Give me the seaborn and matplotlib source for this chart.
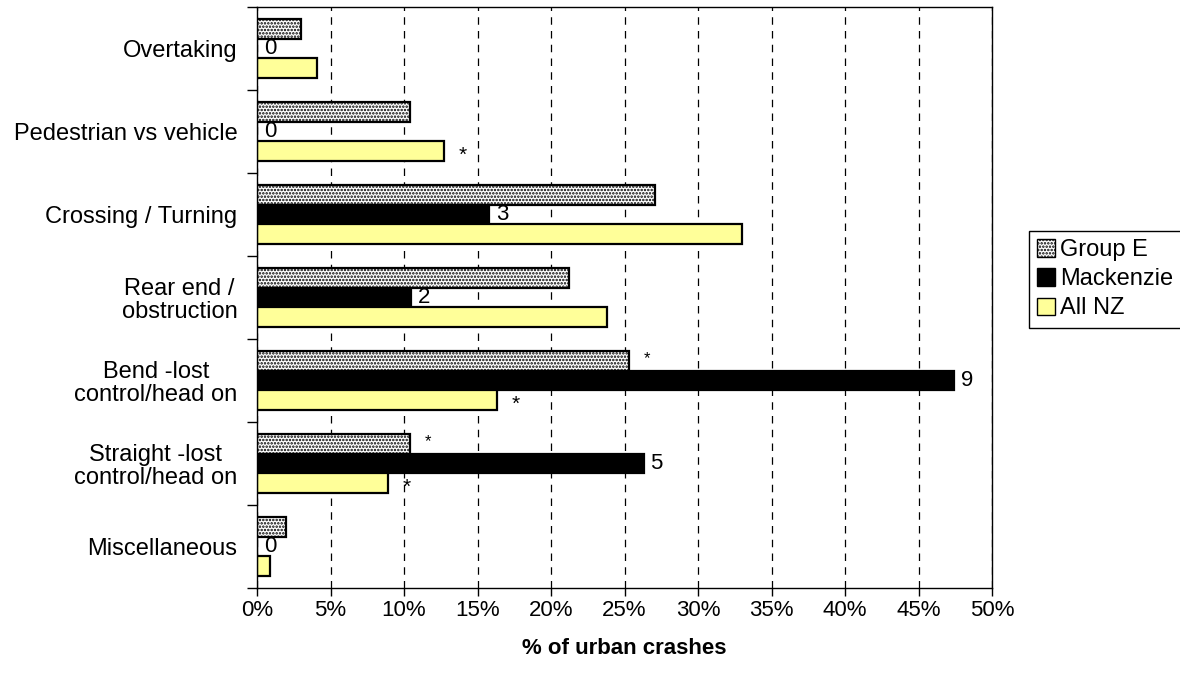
import pandas as pd
import matplotlib
matplotlib.use('Agg')
import matplotlib.pyplot as plt
from matplotlib.patches import Patch
from matplotlib.ticker import FuncFormatter, FixedLocator
import seaborn as sns

# --- DATA ---
categories = ['Overtaking', 'Pedestrian vs vehicle', 'Crossing / Turning',
              'Rear end /\nobstruction', 'Bend -lost\ncontrol/head on',
              'Straight -lost\ncontrol/head on', 'Miscellaneous']
series_names = ['Group E', 'Mackenzie', 'All NZ']
group_e = [3.0, 10.4, 27.1, 21.2, 25.3, 10.4, 2.0]
mackenzie = [0.0, 0.0, 15.8, 10.5, 47.4, 26.3, 0.0]
all_nz = [4.1, 12.7, 33.0, 23.8, 16.3, 8.9, 0.9]
mackenzie_counts = ['0', '0', '3', '2', '9', '5', '0']
stars_group_e = ['', '', '', '', '*', '*', '']
stars_all_nz = ['', '*', '', '', '*', '*', '']
x_ticks = [0, 5, 10, 15, 20, 25, 30, 35, 40, 45, 50]

colors = ['white', 'black', '#FFFF99']

sns.set_theme(style='white')
plt.rcParams['font.family'] = ['Liberation Sans', 'DejaVu Sans']
plt.rcParams['hatch.linewidth'] = 1.2
for key in ['text.color', 'axes.labelcolor', 'xtick.color', 'ytick.color']:
    plt.rcParams[key] = 'black'

rows = []
for vals, name in zip([group_e, mackenzie, all_nz], series_names):
    for cat, v in zip(categories, vals):
        rows.append({'category': cat, 'pct': v, 'series': name})
df = pd.DataFrame(rows)

fig = plt.figure(figsize=(11.8, 6.8), dpi=100)
ax = fig.add_axes([257 / 1180, 1 - 588 / 680, (992 - 257) / 1180, (588 - 7) / 680])

sns.barplot(data=df, x='pct', y='category', hue='series', orient='h',
            order=categories, hue_order=series_names, palette=colors,
            width=0.7, edgecolor='black', linewidth=1.6, legend=False,
            saturation=1, ax=ax, errorbar=None)

# dotted fill for Group E
for bar in ax.containers[0]:
    bar.set_hatch('.....')

ax.set_xlim(0, 50)
ax.set_ylim(len(categories) - 0.5, -0.5)
ax.xaxis.set_major_locator(FixedLocator(x_ticks))
ax.xaxis.set_major_formatter(FuncFormatter(lambda v, p: f'{v:.0f}%'))
ax.grid(axis='x', color='black', linestyle=(0, (6, 5)), linewidth=0.9)
ax.set_axisbelow(True)
for s in ax.spines.values():
    s.set_color('black')
    s.set_linewidth(1.0)

ax.tick_params(axis='x', direction='out', length=6, width=1, color='black',
               labelsize=16, pad=3, bottom=True)
ax.tick_params(axis='y', which='major', length=0, labelsize=17, pad=14)
ax.yaxis.set_minor_locator(FixedLocator([i + 0.5 for i in range(-1, len(categories))]))
ax.tick_params(axis='y', which='minor', direction='out', length=7, width=1,
               color='black', left=True)
for lbl in ax.get_yticklabels():
    lbl.set_multialignment('center')
    lbl.set_linespacing(1.05)

ax.set_ylabel('')
ax.set_xlabel('% of urban crashes', fontsize=16, fontweight='bold', labelpad=12)

# count labels for Mackenzie
for bar, txt in zip(ax.containers[1], mackenzie_counts):
    ax.annotate(txt, (bar.get_width(), bar.get_y() + bar.get_height() / 2),
                xytext=(5, 0), textcoords='offset points',
                ha='left', va='center', fontsize=16)

# significance stars
for bar, s in zip(ax.containers[0], stars_group_e):
    if s:
        ax.annotate(s, (bar.get_width(), bar.get_y() + bar.get_height() / 2),
                    xytext=(11, 2), textcoords='offset points',
                    ha='left', va='center', fontsize=12)
for bar, s in zip(ax.containers[2], stars_all_nz):
    if s:
        ax.annotate(s, (bar.get_width(), bar.get_y() + bar.get_height() / 2),
                    xytext=(11, -3), textcoords='offset points',
                    ha='left', va='center', fontsize=15, zorder=1)

handles = [Patch(facecolor='white', edgecolor='black', hatch='.....', label='Group E'),
           Patch(facecolor='black', edgecolor='black', label='Mackenzie'),
           Patch(facecolor='#FFFF99', edgecolor='black', label='All NZ')]
leg = fig.legend(handles=handles, loc='upper left',
                 bbox_to_anchor=(1029 / 1180, 1 - 231 / 680),
                 bbox_transform=fig.transFigure, fontsize=17,
                 handlelength=0.75, handleheight=0.75, handletextpad=0.2,
                 labelspacing=0.3, borderpad=0.35, borderaxespad=0,
                 fancybox=False, framealpha=1, edgecolor='black')
leg.get_frame().set_linewidth(1.0)

fig.savefig('out.png', dpi=100)
